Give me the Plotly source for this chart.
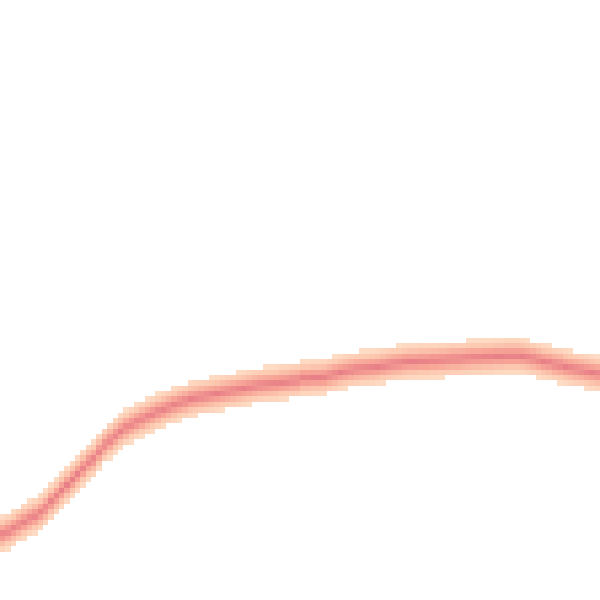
import numpy as np
import plotly.graph_objects as go

# grid of the density image (columns x rows)
n_cols = 112
n_rows = 112

# centre of the band for every column, in row units counted from the bottom
band_centre = [
    11.8, 12.3, 12.9, 13.5, 14.1, 14.7, 15.2,
    15.9, 16.7, 17.9, 18.9, 20.0, 21.0,
    22.0, 23.0, 24.1, 25.2, 25.8, 27.2,
    28.4, 29.3, 30.2, 31.0, 31.7, 32.3,
    32.8, 33.3, 33.8, 34.2, 34.7, 35.1, 35.5,
    35.9, 36.3, 36.6, 37.0, 37.2, 37.4, 37.6, 37.8,
    38.0, 38.2, 38.4, 38.6, 38.8, 39.0, 39.2, 39.4, 39.6, 39.7,
    39.8, 39.9, 40.1, 40.2, 40.4, 40.5,
    40.9, 40.9, 41.0, 41.0, 41.1,
    41.4, 41.7, 42.0, 42.2, 42.4, 42.6,
    42.7, 42.8, 42.9, 43.0,
    43.2, 43.4, 43.6, 43.7, 43.9, 44.0,
    44.0, 44.1, 44.1, 44.2, 44.2, 44.3,
    44.4, 44.5, 44.5, 44.6, 44.7, 44.8,
    44.8, 44.9, 44.9, 45.0, 45.0, 45.1,
    45.1, 45.1, 45.0, 44.8, 44.6, 44.3,
    44.0, 43.8, 43.5, 43.3, 43.0,
    42.8, 42.6, 42.4, 42.2, 42.0, 41.8,
]

# density across the band, for offsets from the centre (rows)
band_offsets = [-3.7, -2.3, -1.1, 0.0, 1.1, 2.3, 3.7]
band_density = [0.0, 0.3, 0.62, 0.88, 0.62, 0.3, 0.0]

z = np.full((n_rows, n_cols), np.nan)
for col, c in enumerate(band_centre):
    for row in range(n_rows):
        v = np.interp(row - c, band_offsets, band_density, left=0, right=0)
        if v > 0.08:
            z[row, col] = v

fig = go.Figure()
fig.add_trace(go.Heatmap(
    z=z,
    zmin=0,
    zmax=1,
    zsmooth=False,
    colorscale=[
        [0.0, 'rgb(255,228,205)'],
        [0.35, 'rgb(252,200,175)'],
        [0.65, 'rgb(246,160,148)'],
        [1.0, 'rgb(224,112,130)'],
    ],
    showscale=False,
    hoverongaps=False,
))
fig.update_layout(
    width=600,
    height=600,
    margin=dict(l=0, r=0, t=0, b=0),
    paper_bgcolor='white',
    plot_bgcolor='white',
    xaxis=dict(visible=False, range=[-0.5, n_cols - 0.5]),
    yaxis=dict(visible=False, range=[-0.5, n_rows - 0.5]),
    showlegend=False,
)
# page body has an 8px margin by default; drop it so the image fills the window
fig.write_html(
    "out.html",
    config={'displayModeBar': False},
    post_script="document.body.style.margin='0';",
)
